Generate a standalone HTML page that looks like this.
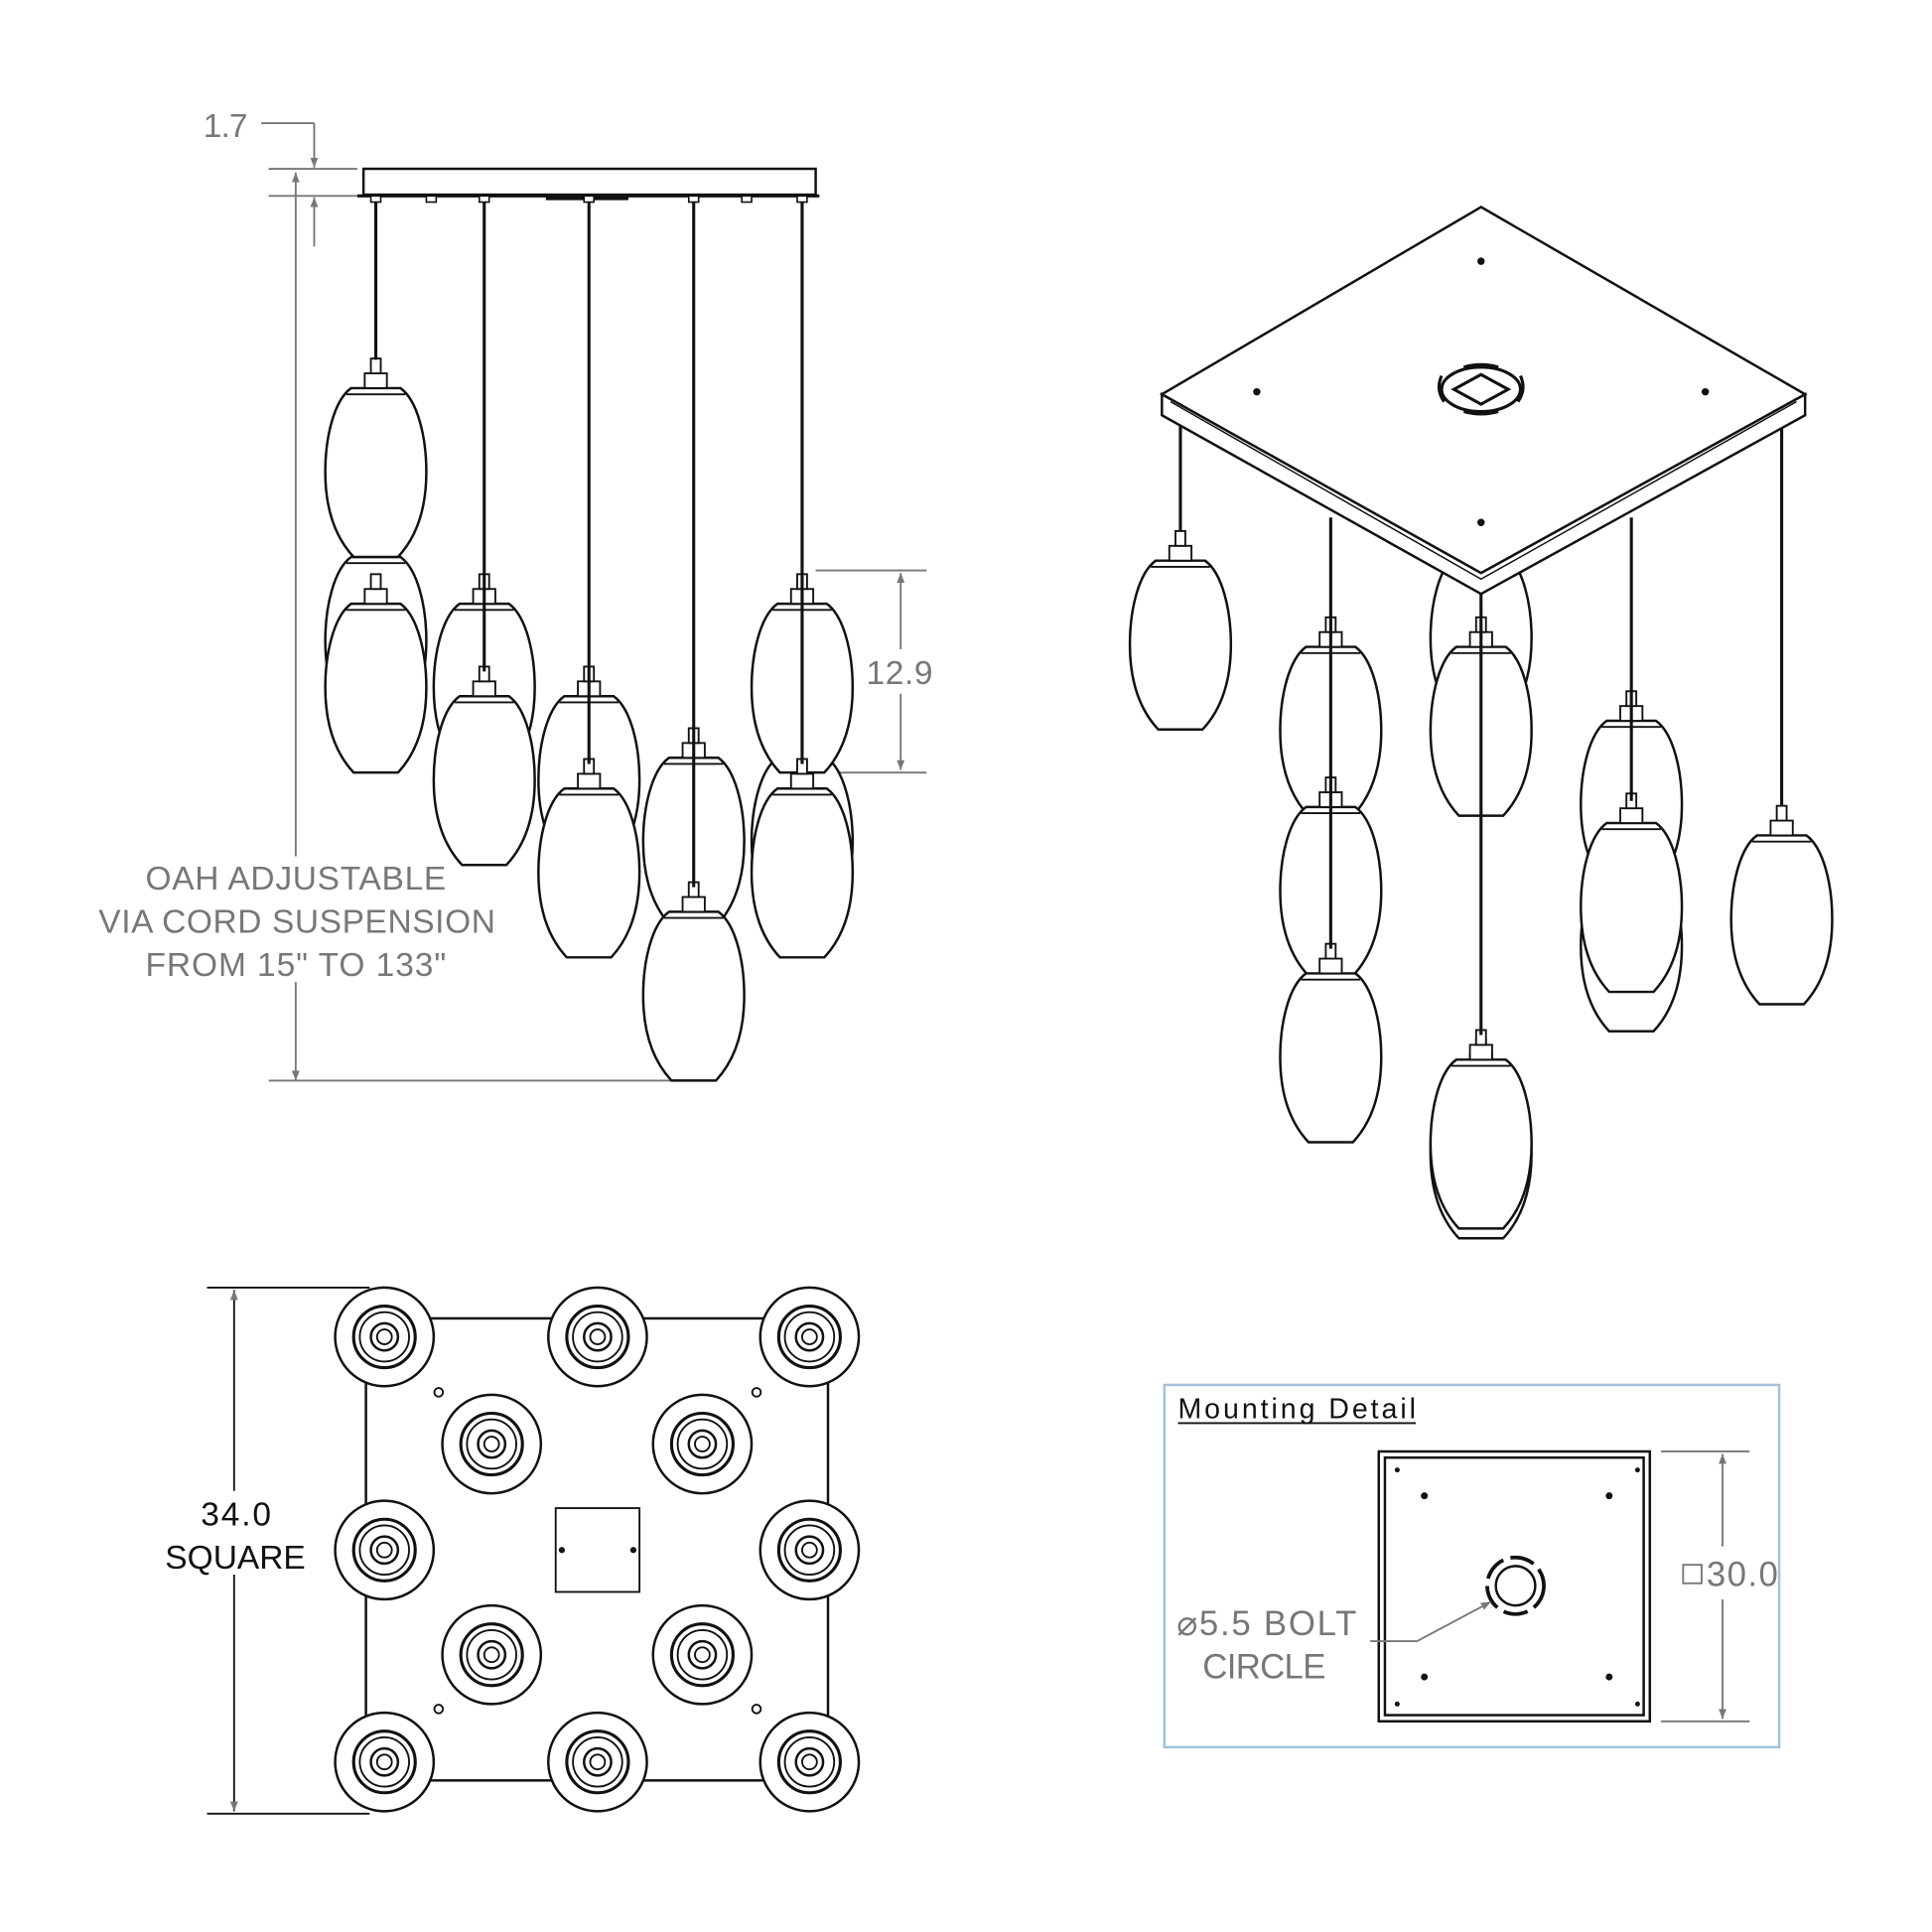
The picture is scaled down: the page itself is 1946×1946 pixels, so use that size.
<!DOCTYPE html>
<html><head><meta charset="utf-8"><style>html,body{margin:0;padding:0;background:#fff}svg{display:block}</style></head><body>
<svg width="1946" height="1946" viewBox="0 0 1568 1568" xmlns="http://www.w3.org/2000/svg" font-family="Liberation Sans, sans-serif">
<defs>
<g id="egg">
<path d="M -20,0 C -34,10 -41,40 -41,68 C -41,100 -32,122 -18,137 L 18,137 C 32,122 41,100 41,68 C 41,40 34,10 20,0 Z" fill="#fff" stroke="#111" stroke-width="2"/>
<line x1="-24" y1="5" x2="24" y2="5" stroke="#111" stroke-width="1.5"/>
<rect x="-9" y="-12" width="18" height="12" fill="#fff" stroke="#111" stroke-width="1.5"/>
<rect x="-4" y="-24" width="8" height="12" fill="#fff" stroke="#111" stroke-width="1.5"/>
</g>
<g id="disc">
<circle r="40" fill="#fff" stroke="#111" stroke-width="2"/>
<circle r="25" fill="none" stroke="#111" stroke-width="2.5"/>
<circle r="20" fill="none" stroke="#111" stroke-width="1.5"/>
<circle r="11" fill="none" stroke="#111" stroke-width="2"/>
<circle r="6" fill="none" stroke="#111" stroke-width="1.5"/>
</g>
<marker id="ar" viewBox="0 0 10 10" refX="10" refY="5" markerWidth="8" markerHeight="14" orient="auto-start-reverse" markerUnits="userSpaceOnUse"><path d="M0,1 L10,5 L0,9 Z" fill="#777"/></marker>
</defs>

<!-- FRONT ELEVATION -->
<g stroke="#777" stroke-width="1.5" fill="none">
<line x1="212" y1="100" x2="255" y2="100"/>
<line x1="255" y1="100" x2="255" y2="136" marker-end="url(#ar)"/>
<line x1="255" y1="200" x2="255" y2="160" marker-end="url(#ar)"/>
<line x1="218" y1="137" x2="290" y2="137"/>
<line x1="218" y1="159" x2="290" y2="159"/>
<line x1="240" y1="140" x2="240" y2="877" marker-start="url(#ar)" marker-end="url(#ar)"/>
<line x1="218" y1="877" x2="565" y2="877"/>
<line x1="662" y1="463" x2="752" y2="463"/>
<line x1="662" y1="627" x2="752" y2="627"/>
<line x1="731" y1="465" x2="731" y2="527" marker-start="url(#ar)"/>
<line x1="731" y1="563" x2="731" y2="625" marker-end="url(#ar)"/>
</g>
<rect x="110" y="695" width="300" height="102" fill="#fff"/>
<g fill="#777" font-size="27">
<text x="165" y="111" textLength="36">1.7</text>
<text x="703" y="555" textLength="54">12.9</text>
<text x="118" y="722" textLength="244">OAH ADJUSTABLE</text>
<text x="80" y="757" textLength="322">VIA CORD SUSPENSION</text>
<text x="118" y="792" textLength="244">FROM 15" TO 133"</text>
</g>
<rect x="295" y="137" width="367" height="21" fill="#fff" stroke="#111" stroke-width="2"/>
<line x1="290" y1="159" x2="665" y2="159" stroke="#111" stroke-width="2.5"/>
<line x1="443" y1="161" x2="510" y2="161" stroke="#111" stroke-width="3"/>
<g fill="#fff" stroke="#111" stroke-width="1.3">
<rect x="346" y="159" width="8" height="5"/><rect x="602" y="159" width="8" height="5"/>
<rect x="301" y="159" width="8" height="5"/><rect x="389" y="159" width="8" height="5"/><rect x="474" y="159" width="8" height="5"/><rect x="559" y="159" width="8" height="5"/><rect x="647" y="159" width="8" height="5"/>
</g>
<use href="#egg" x="305" y="452"/>
<use href="#egg" x="305" y="490"/>
<use href="#egg" x="305" y="315"/>
<use href="#egg" x="393" y="490"/>
<use href="#egg" x="393" y="565"/>
<use href="#egg" x="478" y="565"/>
<use href="#egg" x="478" y="640"/>
<use href="#egg" x="563" y="615"/>
<use href="#egg" x="563" y="740"/>
<use href="#egg" x="651" y="615"/>
<use href="#egg" x="651" y="490"/>
<use href="#egg" x="651" y="640"/>
<g stroke="#111" stroke-width="2.5">
<line x1="305" y1="164" x2="305" y2="292"/>
<line x1="393" y1="164" x2="393" y2="545"/>
<line x1="478" y1="164" x2="478" y2="620"/>
<line x1="563" y1="164" x2="563" y2="720"/>
<line x1="651" y1="164" x2="651" y2="620"/>
</g>

<!-- ISOMETRIC VIEW -->
<use href="#egg" x="1202" y="450"/>
<g stroke="#111" stroke-width="2.5">
<line x1="958" y1="340" x2="958" y2="432"/>
<line x1="1446" y1="340" x2="1446" y2="655"/>
</g>
<path d="M943,320 L943,337 L1202,482 L1465,337 L1465,320 L1202,465 Z" fill="#fff" stroke="#111" stroke-width="2"/>
<path d="M1202,168 L1465,320 L1202,465 L943,320 Z" fill="#fff" stroke="#111" stroke-width="2"/>
<path d="M950,326 L1202,470 L1458,326" fill="none" stroke="#111" stroke-width="1.2"/>
<g fill="#111"><circle cx="1202" cy="212" r="3"/><circle cx="1020" cy="318" r="3"/><circle cx="1384" cy="318" r="3"/><circle cx="1202" cy="424" r="3"/></g>
<g fill="none" stroke="#111" stroke-width="2.5">
<ellipse cx="1202" cy="316" rx="32" ry="18"/>
<path d="M1180,316 L1202,304 L1224,316 L1202,328 Z"/>
<path d="M1170,305 Q1165,316 1172,326"/><path d="M1234,305 Q1239,316 1232,326"/>
<path d="M1188,298 Q1202,294 1216,298"/><path d="M1188,334 Q1202,338 1216,334"/>
</g>
<use href="#egg" x="958" y="455"/>
<use href="#egg" x="1080" y="525"/>
<use href="#egg" x="1080" y="655"/>
<use href="#egg" x="1080" y="790"/>
<use href="#egg" x="1202" y="525"/>
<use href="#egg" x="1202" y="868"/>
<use href="#egg" x="1202" y="860"/>
<use href="#egg" x="1324" y="700"/>
<use href="#egg" x="1324" y="585"/>
<use href="#egg" x="1324" y="668"/>
<use href="#egg" x="1446" y="678"/>
<g stroke="#111" stroke-width="2.5">
<line x1="1080" y1="420" x2="1080" y2="770"/>
<line x1="1202" y1="482" x2="1202" y2="840"/>
<line x1="1324" y1="420" x2="1324" y2="650"/>
</g>

<!-- PLAN VIEW -->
<g stroke="#111" stroke-width="1.5" fill="none">
<line x1="168" y1="1045" x2="300" y2="1045"/>
<line x1="168" y1="1472" x2="300" y2="1472"/>
</g>
<line x1="190" y1="1047" x2="190" y2="1470" stroke="#111" stroke-width="1.5" marker-start="url(#ar)" marker-end="url(#ar)"/>
<rect x="132" y="1210" width="118" height="68" fill="#fff"/>
<g fill="#111" font-size="27">
<text x="163" y="1238" textLength="57">34.0</text>
<text x="134" y="1273" textLength="114">SQUARE</text>
</g>
<rect x="297" y="1070" width="375" height="375" fill="#fff" stroke="#111" stroke-width="2"/>
<rect x="451" y="1224" width="68" height="68" fill="#fff" stroke="#111" stroke-width="1.5"/>
<g fill="#111"><circle cx="456" cy="1258" r="2.5"/><circle cx="514" cy="1258" r="2.5"/></g>
<g fill="#fff" stroke="#111" stroke-width="1.5"><circle cx="356" cy="1130" r="3.5"/><circle cx="614" cy="1130" r="3.5"/><circle cx="356" cy="1387" r="3.5"/><circle cx="614" cy="1387" r="3.5"/></g>
<use href="#disc" x="312" y="1085"/><use href="#disc" x="485" y="1085"/><use href="#disc" x="657" y="1085"/>
<use href="#disc" x="312" y="1258"/><use href="#disc" x="657" y="1258"/>
<use href="#disc" x="312" y="1430"/><use href="#disc" x="485" y="1430"/><use href="#disc" x="657" y="1430"/>
<use href="#disc" x="399" y="1172"/><use href="#disc" x="570" y="1172"/>
<use href="#disc" x="399" y="1343"/><use href="#disc" x="570" y="1343"/>

<!-- MOUNTING DETAIL -->
<rect x="945" y="1124" width="499" height="294" fill="#fff" stroke="#9cc4dc" stroke-width="2"/>
<text x="956" y="1151" font-size="23" fill="#111" textLength="193">Mounting Detail</text>
<line x1="956" y1="1155" x2="1149" y2="1155" stroke="#111" stroke-width="1.5"/>
<rect x="1119" y="1178" width="220" height="219" fill="#fff" stroke="#111" stroke-width="2"/>
<rect x="1124" y="1183" width="210" height="209" fill="none" stroke="#111" stroke-width="2"/>
<g fill="#111">
<circle cx="1134" cy="1193" r="2"/><circle cx="1329" cy="1193" r="2"/><circle cx="1134" cy="1383" r="2"/><circle cx="1329" cy="1383" r="2"/>
<circle cx="1156" cy="1214" r="2.8"/><circle cx="1306" cy="1214" r="2.8"/><circle cx="1156" cy="1361" r="2.8"/><circle cx="1306" cy="1361" r="2.8"/>
</g>
<circle cx="1230" cy="1287" r="16" fill="none" stroke="#111" stroke-width="2"/>
<circle cx="1230" cy="1287" r="23" fill="none" stroke="#111" stroke-width="3" stroke-dasharray="20 6"/>
<polyline points="1112,1332 1150,1332 1210,1300" fill="none" stroke="#777" stroke-width="1.5" marker-end="url(#ar)"/>
<g stroke="#777" stroke-width="1.5">
<line x1="1348" y1="1178" x2="1420" y2="1178"/>
<line x1="1348" y1="1397" x2="1420" y2="1397"/>
<line x1="1398" y1="1180" x2="1398" y2="1255" marker-start="url(#ar)"/>
<line x1="1398" y1="1298" x2="1398" y2="1395" marker-end="url(#ar)"/>
</g>
<rect x="1366" y="1270" width="15" height="15" fill="none" stroke="#777" stroke-width="1.5"/>
<g fill="#777" font-size="28">
<text x="1385" y="1287" textLength="58">30.0</text>
<text x="955" y="1327" textLength="146">⌀5.5 BOLT</text>
<text x="976" y="1362" textLength="100">CIRCLE</text>
</g>
</svg>
</body></html>
